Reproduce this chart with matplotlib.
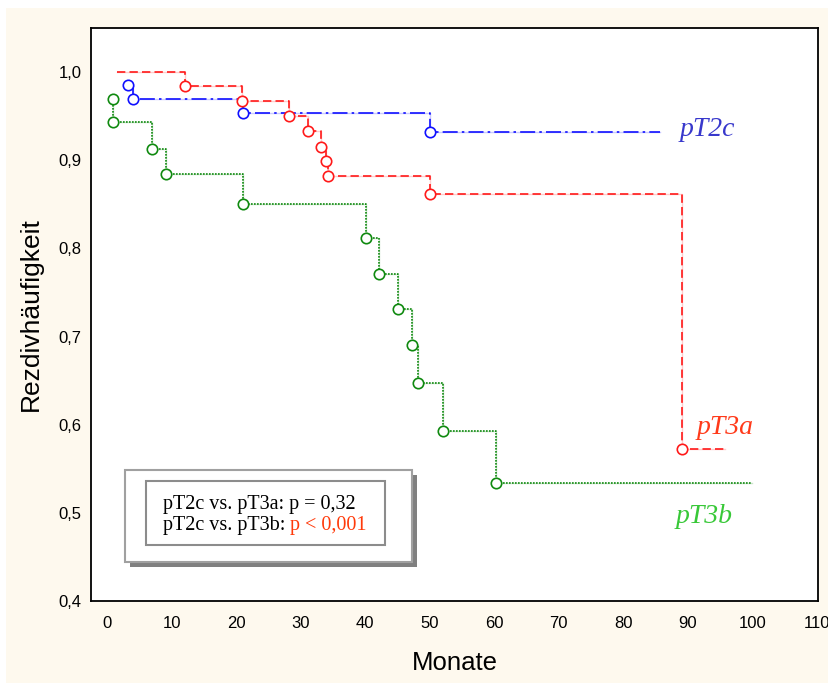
import matplotlib
matplotlib.use("Agg")
import matplotlib.pyplot as plt
from matplotlib.patches import Rectangle
from matplotlib.ticker import FuncFormatter

# ---- data ----
blue_times = [3.2, 4.0, 21.1, 50.1]
blue_surv = [0.985, 0.969, 0.954, 0.932]
blue_end = 85.7

red_start = (1.5, 1.0)
red_times = [12.1, 21.0, 28.2, 31.1, 33.1, 34.0, 34.2, 50.1, 89.1]
red_surv = [0.984, 0.967, 0.950, 0.933, 0.915, 0.899, 0.882, 0.862, 0.572]
red_end = 95.8

green_times = [1.0, 1.0, 7.0, 9.1, 21.1, 40.2, 42.2, 45.1, 47.2, 48.2, 52.1, 60.3]
green_surv = [0.970, 0.943, 0.913, 0.884, 0.850, 0.812, 0.771, 0.731, 0.690, 0.647, 0.593, 0.534]
green_end = 99.9

x_ticks = [0, 10, 20, 30, 40, 50, 60, 70, 80, 90, 100, 110]
y_ticks = [0.4, 0.5, 0.6, 0.7, 0.8, 0.9, 1.0]

group_labels = ["pT2c", "pT3a", "pT3b"]
stat_line1 = "pT2c vs. pT3a: p = 0,32"
stat_line2a = "pT2c vs. pT3b:"
stat_line2b = "p < 0,001"

W, H = 829, 683
fig = plt.figure(figsize=(W / 100, H / 100), dpi=100)
fig.patch.set_facecolor("white")

def fx(px):
    return px / W

def fy(py):
    return 1 - py / H

# cream background
fig.patches.append(Rectangle((fx(6), 0), 1 - fx(6), fy(8), transform=fig.transFigure,
                             facecolor="#FEF9EE", edgecolor="none", zorder=-5))

ax = fig.add_axes([fx(91), fy(601), fx(818) - fx(91), fy(28) - fy(601)])
ax.set_zorder(1)
ax.set_facecolor("white")
ax.set_xlim(-2.48, 110.2)
ax.set_ylim(0.4, 1.05)

def km(ax, times, surv, end, color, ls, start=None):
    xs = ([start[0]] if start else []) + list(times) + [end]
    ys = ([start[1]] if start else []) + list(surv) + [surv[-1]]
    ax.step(xs, ys, where="post", color=color, linestyle="-", linewidth=1.0, alpha=0.22, zorder=2)
    ax.step(xs, ys, where="post", color=color, linestyle=ls, linewidth=1.2, zorder=3)
    ax.plot(times, surv, linestyle="none", marker="o", markersize=7.5,
            markerfacecolor="white", markeredgecolor=color, markeredgewidth=1.2, zorder=4)

km(ax, blue_times, blue_surv, blue_end, "#1010FF", (0, (9, 2.5, 1.5, 2.5)))
km(ax, red_times, red_surv, red_end, "#FF1A1A", (0, (5, 2.5)), start=red_start)
km(ax, green_times, green_surv, green_end, "#108A10", (0, (1, 0.8)))

ax.set_xticks(x_ticks)
ax.set_yticks(y_ticks)
ax.xaxis.set_major_formatter(FuncFormatter(lambda v, p: f"{v:.0f}"))
ax.yaxis.set_major_formatter(FuncFormatter(lambda v, p: f"{v:.1f}".replace(".", ",")))
ax.tick_params(axis="both", length=0, labelsize=12, colors="black")
ax.tick_params(axis="x", pad=11)
ax.tick_params(axis="y", pad=7)
for lab in ax.get_xticklabels() + ax.get_yticklabels():
    lab.set_family("Liberation Sans")
for sp in ax.spines.values():
    sp.set_color("black")
    sp.set_linewidth(1.3)

ax.set_xlabel("Monate", fontsize=18.5, family="Liberation Sans", labelpad=14)
ax.set_ylabel("Rezdivhäufigkeit", fontsize=19, family="Liberation Sans", labelpad=11)

# group labels
lab_kw = dict(family="Liberation Serif", style="italic", fontsize=20, va="baseline", ha="left", zorder=5)
ax.text(88.8, 0.927, group_labels[0], color="#3838CC", **lab_kw)
ax.text(91.4, 0.590, group_labels[1], color="#FF3A1A", **lab_kw)
ax.text(88.2, 0.488, group_labels[2], color="#38C838", **lab_kw)

# stats box (outer and inner with shadows)
def box(x0, y0, x1, y1, off, edge):
    fig.patches.append(Rectangle((fx(x0 + off), fy(y1 + off)), fx(x1 - x0), fy(y0) - fy(y1),
                                 transform=fig.transFigure, facecolor="#808080",
                                 edgecolor="none", zorder=6))
    fig.patches.append(Rectangle((fx(x0), fy(y1)), fx(x1 - x0), fy(y0) - fy(y1),
                                 transform=fig.transFigure, facecolor="white",
                                 edgecolor=edge, linewidth=1.5, zorder=7))

box(125, 470, 412, 562, 5, "#A0A0A0")
box(146, 481, 385, 545, 5, "#8C8C8C")

tkw = dict(family="Liberation Serif", fontsize=14.5, va="baseline", ha="left",
           transform=fig.transFigure, zorder=8)
fig.text(fx(163), fy(509), stat_line1, color="black", **tkw)
t2 = fig.text(fx(163), fy(530), stat_line2a, color="black", **tkw)
r = fig.canvas.get_renderer()
bb = t2.get_window_extent(renderer=r)
fig.text(fx(bb.x1 + 5), fy(530), stat_line2b, color="#FF3A0A", **tkw)

fig.savefig("out.png", dpi=100, facecolor=fig.get_facecolor())
